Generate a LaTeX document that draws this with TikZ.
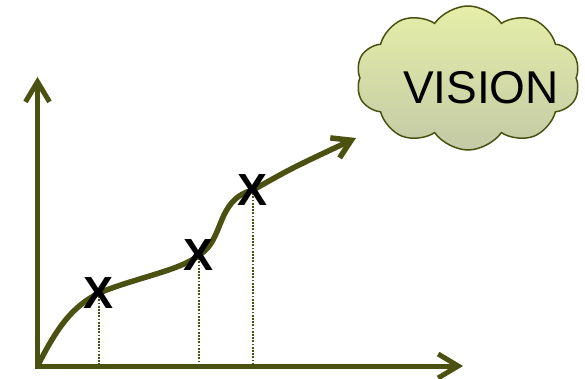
\documentclass[tikz,border=0pt]{standalone}
\usepackage{fontspec}
\setmainfont{Liberation Sans}
\usetikzlibrary{arrows.meta,shapes.symbols,backgrounds}
\definecolor{darkolive}{HTML}{4A5111}
\definecolor{cloudtop}{HTML}{E6EEA8}
\definecolor{cloudbottom}{HTML}{C3CAA6}

\begin{document}
\begin{tikzpicture}[x=1pt,y=-1pt,
  axis/.style={draw=darkolive,line width=5pt,-{Straight Barb[length=20pt,width=24pt]}},
  growth/.style={draw=darkolive,line width=5.5pt,-{Straight Barb[length=18pt,width=22pt]}},
  guide/.style={draw=darkolive,line width=1.8pt,dash pattern=on 1.8pt off 1.4pt},
  xmark/.style={inner sep=0pt,font=\bfseries\fontsize{45}{45}\selectfont},
  cloudy/.style={cloud,cloud puffs=10,cloud puff arc=110,aspect=1.55,draw=darkolive,line width=1.5pt,
    top color=cloudtop,bottom color=cloudbottom,minimum width=224pt,minimum height=144pt}]
\useasboundingbox (0,0) rectangle (585,379);
\coordinate (o) at (37.5,366);
\coordinate (ytop) at (37.5,77);
\coordinate (xend) at (463,366);
\coordinate (tip) at (356,138);
\node[cloudy] (cloud) at (468,78) {};
\node[font=\fontsize{46}{46}\selectfont] (vision) at (481,88) {VISION};
% the three milestones
\node[xmark] (x1) at (99,293) {X};
\node[xmark] (x2) at (199,255) {X};
\node[xmark] (x3) at (253,190) {X};
\begin{scope}[on background layer]
  \foreach \m in {x1,x2,x3}
    \draw[guide] (\m.center) -- (\m.center |- o);
  \draw[axis,line cap=rect] (o) -- (ytop);
  \draw[axis,line cap=rect] (o) -- (xend);
  \draw[growth] (o) .. controls (58,326) and (72,307) .. (x1.center)
    .. controls (135,278) and (182,270) .. (x2.center)
    .. controls (225,240) and (215,200) .. (x3.center)
    .. controls (292,168) .. (tip);
\end{scope}
\end{tikzpicture}
\end{document}
